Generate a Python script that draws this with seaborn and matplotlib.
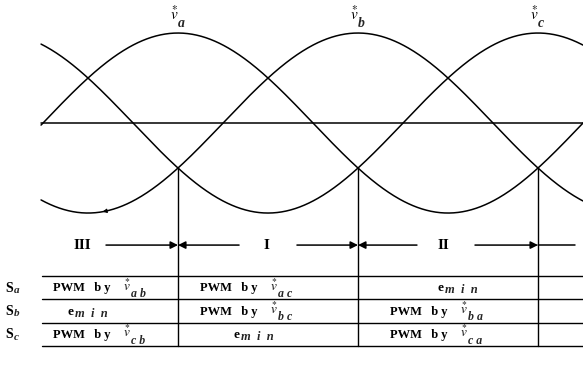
import numpy as np
import pandas as pd
import matplotlib
matplotlib.use("Agg")
import matplotlib.pyplot as plt
import seaborn as sns

sns.set_theme(style="white")
plt.rcParams["font.family"] = ["Liberation Serif", "DejaVu Serif"]
plt.rcParams["mathtext.fontset"] = "stix"

# Three-phase reference voltages (normalised amplitude, phase in electrical degrees)
phases = ["a", "b", "c"]
phase_shift = [0, 120, 240]
amplitude = 1.0
theta_start, theta_end = -91.3, 270.0
theta = np.linspace(theta_start, theta_end, 600)

# Sector boundaries (where the two lower phases cross) and sector names
boundaries = [0, 120, 240]
boundary_level = -0.5
sector_names = ["III", "I", "II"]
sector_label_x = [-64, 59.3, 176.7]

# Switching table: (left position, "pwm"/"emin", modulating voltage subscript)
row_labels = ["a", "b", "c"]
table_cells = [
    [(-83.3, "pwm", "ab"), (14.7, "pwm", "ac"), (172.7, "emin", "")],
    [(-74.0, "emin", ""), (14.7, "pwm", "bc"), (141.3, "pwm", "ba")],
    [(-83.3, "pwm", "cb"), (36.7, "emin", ""), (141.3, "pwm", "ca")],
]
table_lines_y = [-1.70, -1.956, -2.222, -2.478]
row_text_y = [-1.835, -2.095, -2.355]
arrow_y = -1.356

frames = []
for name, shift in zip(phases, phase_shift):
    frames.append(pd.DataFrame({
        "theta": theta,
        "v": amplitude * np.cos(np.radians(theta - shift)),
        "phase": name,
    }))
df = pd.concat(frames, ignore_index=True)

fig = plt.figure(figsize=(5.83, 3.70), dpi=100)
ax = fig.add_axes([0, 0, 1, 1])
sns.lineplot(data=df, x="theta", y="v", units="phase", estimator=None,
             color="black", lw=1.1, legend=False, ax=ax)


def spaced(s, gap="  "):
    return gap.join(s)


def vstar(x, y, sub, size):
    """Italic v with an asterisk above, followed by a large spaced subscript."""
    ax.text(x, y, r"$\overset{\ast}{v}$", fontsize=size, ha="left", va="bottom",
            color="black")
    ax.annotate(spaced(sub, " "), (x, y), xytext=(5.6, -0.3), textcoords="offset points",
                fontsize=size * 0.9, style="italic", fontweight="bold",
                ha="left", va="center")


# zero axis
ax.plot([theta_start, theta_end], [0, 0], color="black", lw=1.1)

# phase labels above each peak
for name, shift in zip(phases, phase_shift):
    vstar(shift - 5.3, 1.115, name, 11)

# small direction mark on the b-phase curve
tx = -47.3
ty = amplitude * np.cos(np.radians(tx - 120))
ax.annotate("", xy=(tx - 3, amplitude * np.cos(np.radians(tx - 3 - 120))), xytext=(tx, ty),
            arrowprops=dict(arrowstyle="-|>", color="black", lw=0.8, mutation_scale=6,
                            shrinkA=0, shrinkB=0))

# sector boundaries
for b in boundaries:
    ax.plot([b, b], [boundary_level, table_lines_y[-1]], color="black", lw=1.0)

# sector arrows
arrow_kw = dict(arrowstyle="-|>", color="black", lw=1.1, mutation_scale=11,
                shrinkA=0, shrinkB=0)
segments = [(-48, 0), (40.7, 0), (79.3, 120), (159.3, 120), (198, 240)]
for x0, x1 in segments:
    ax.annotate("", xy=(x1, arrow_y), xytext=(x0, arrow_y), arrowprops=arrow_kw)
ax.plot([240, 264.7], [arrow_y, arrow_y], color="black", lw=1.1)
for name, x in zip(sector_names, sector_label_x):
    ax.text(x, arrow_y, name, ha="center", va="center", fontsize=11,
            fontweight="bold", color="black")

# switching table
for y in table_lines_y:
    ax.plot([-90.7, theta_end], [y, y], color="black", lw=1.0)
for label, y in zip(row_labels, row_text_y):
    ax.text(-115.3, y, "S", ha="left", va="center", fontsize=10,
            fontweight="bold", color="black")
    ax.annotate(label, (-115.3, y), xytext=(6.4, -1.5), textcoords="offset points",
                fontsize=8, style="italic", fontweight="bold", ha="left", va="center")
for row, y in zip(table_cells, row_text_y):
    for x, kind, sub in row:
        if kind == "pwm":
            ax.text(x, y, "PWM   b y", ha="left", va="center", fontsize=9,
                    fontweight="bold", color="black")
            vstar(x + 46.7, y - 0.06, sub, 9.5)
        else:
            ax.text(x, y, "e", ha="left", va="center", fontsize=9.5,
                    fontweight="bold", color="black")
            ax.annotate(spaced("min"), (x, y), xytext=(6.0, -1.5),
                        textcoords="offset points", fontsize=9, style="italic",
                        fontweight="bold", ha="left", va="center")

ax.set_xlim(-118.67, 270)
ax.set_ylim(-2.744, 1.367)
ax.set_axis_off()
fig.savefig("out.png", dpi=100, facecolor="white")
